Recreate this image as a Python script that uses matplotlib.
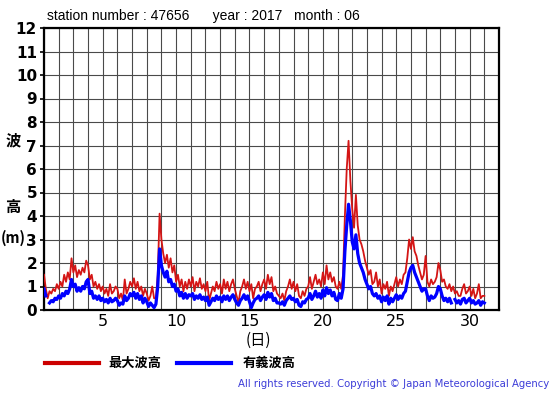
import numpy as np
import matplotlib
matplotlib.use("Agg")
import matplotlib.pyplot as plt

nan = float("nan")

# 3-hourly wave heights (m), June 2017, station 47656
max_wave = [
    1.5, 0.9, 0.5, 0.8, 0.7, 0.9, 0.8, 1.1,   # 1
    0.9, 1.2, 1.0, 1.5, 1.2, 1.6, 1.3, 2.2,   # 2
    1.6, 1.9, 1.4, 1.7, 1.5, 1.8, 1.6, 2.1,   # 3
    1.9, 1.3, 1.5, 1.0, 1.2, 0.9, 1.1, 0.8,   # 4
    1.0, 0.7, 0.9, 0.6, 1.1, 0.7, 0.8, 1.0,   # 5
    0.9, 0.5, 0.7, 0.4, 1.3, 0.7, 0.9, 1.2,   # 6
    1.0, 1.35, 0.9, 1.2, 0.8, 1.0, 0.6, 0.9,  # 7
    0.7, 0.4, 0.6, 1.0, 0.5, 0.5, 1.5, 4.1,   # 8
    3.0, 2.4, 2.0, 2.35, 1.8, 2.2, 1.6, 1.9,  # 9
    1.2, 1.5, 1.0, 1.3, 0.8, 1.2, 0.9, 1.3,   # 10
    1.0, 1.4, 0.8, 1.2, 1.0, 1.35, 0.9, 1.1,  # 11
    0.8, 1.2, 0.4, 0.7, 1.0, 0.8, 1.2, 0.9,   # 12
    1.1, 0.7, 1.3, 0.9, 1.2, 0.8, 1.1, 1.3,   # 13
    0.9, 0.6, 0.3, 0.8, 1.0, 1.3, 0.9, 1.2,   # 14
    0.8, 1.1, 0.5, 0.9, 1.0, 1.2, 0.8, 1.1,   # 15
    1.3, 0.9, 1.5, 1.1, 1.4, 0.8, 1.0, 0.7,   # 16
    0.6, 0.5, 0.7, 0.4, 0.8, 1.0, 1.3, 0.9,   # 17
    1.2, 0.8, 1.1, 0.6, 0.5, 0.8, 0.6, 0.9,   # 18
    1.0, 1.4, 0.9, 1.2, 1.5, 1.1, 1.3, 1.0,   # 19
    1.6, 1.1, 1.9, 1.3, 1.6, 1.2, 1.4, 1.0,   # 20
    0.9, 1.2, 0.9, 1.5, 4.0, 6.0, 7.2, 5.5,   # 21
    4.3, 3.5, 4.9, 3.6, 3.0, 2.8, 2.5, 2.1,   # 22
    1.8, 1.5, 1.7, 1.1, 1.2, 1.6, 1.0, 1.3,   # 23
    0.7, 1.1, 0.9, 1.2, 0.6, 1.0, 0.8, 1.1,   # 24
    1.4, 1.0, 1.3, 1.1, 1.5, 1.6, 2.2, 3.0,   # 25
    2.6, 3.1, 2.5, 2.3, 1.9, 1.6, 1.3, 1.5,   # 26
    2.3, 1.2, 1.0, 1.3, 1.1, 1.2, 1.4, 2.0,   # 27
    1.7, 1.2, 1.3, 1.0, 0.9, 1.1, 0.8, 1.0,   # 28
    0.7, 0.8, 0.6, 0.6, 0.9, 1.1, 0.7, 0.8,   # 29
    1.0, 0.6, 0.9, 0.5, 0.7, 1.1, 0.5, 0.6,   # 30
    0.6,
]

sig_wave = [
    0.9, 0.6, nan, 0.3, 0.4, 0.35, 0.5, 0.45,     # 1
    0.6, 0.5, 0.7, 0.6, 0.8, 0.7, 0.9, 1.3,       # 2
    1.0, 1.1, 0.8, 0.95, 0.8, 1.0, 0.9, 1.2,      # 3
    1.3, 0.7, 0.8, 0.5, 0.6, 0.45, 0.6, 0.4,      # 4
    0.5, 0.35, 0.45, 0.3, 0.5, 0.35, 0.4, 0.5,    # 5
    0.4, 0.2, 0.3, 0.25, 0.6, 0.4, 0.5, 0.7,      # 6
    0.6, 0.75, 0.5, 0.7, 0.45, 0.6, 0.3, 0.5,     # 7
    0.35, 0.15, 0.3, 0.2, 0.1, 0.25, 1.0, 2.6,    # 8
    1.9, 1.6, 1.4, 1.65, 1.2, 1.3, 1.0, 1.1,      # 9
    0.8, 0.9, 0.6, 0.75, 0.5, 0.7, 0.5, 0.65,     # 10
    0.6, 0.7, 0.45, 0.6, 0.5, 0.65, 0.45, 0.55,   # 11
    0.4, 0.55, 0.2, 0.35, 0.5, 0.4, 0.6, 0.45,    # 12
    0.55, 0.35, 0.6, 0.45, 0.6, 0.4, 0.55, 0.65,  # 13
    0.45, 0.3, 0.2, 0.4, 0.5, 0.65, 0.45, 0.6,    # 14
    0.35, 0.1, 0.3, 0.45, 0.5, 0.6, 0.4, 0.55,    # 15
    0.65, 0.45, 0.75, 0.55, 0.7, 0.4, 0.5, 0.3,   # 16
    0.3, 0.25, 0.35, 0.2, 0.4, 0.5, 0.6, 0.45,    # 17
    0.5, 0.35, 0.45, 0.2, 0.15, 0.35, 0.3, 0.45,  # 18
    0.5, 0.7, 0.45, 0.6, 0.8, 0.55, 0.7, 0.5,     # 19
    0.85, 0.6, 0.95, 0.7, 0.85, 0.6, 0.75, 0.45,  # 20
    0.4, 0.7, 0.5, 0.9, 2.5, 3.6, 4.5, 3.8,       # 21
    2.9, 2.6, 3.2, 2.4, 2.0, 1.8, 1.6, 1.3,       # 22
    1.1, 0.9, 1.0, 0.7, 0.6, 0.7, 0.5, 0.6,       # 23
    0.35, 0.55, 0.4, 0.6, 0.25, 0.5, 0.35, 0.5,   # 24
    0.65, 0.45, 0.6, 0.5, 0.7, 0.8, 1.2, 1.6,     # 25
    1.8, 1.9, 1.6, 1.4, 1.2, 1.0, 0.8, 0.9,       # 26
    0.9, 0.6, 0.4, 0.6, 0.5, 0.55, 0.7, 1.0,      # 27
    0.9, 0.6, 0.4, 0.5, 0.35, 0.5, 0.3, nan,      # 28
    0.45, 0.3, 0.4, 0.25, 0.45, 0.5, 0.3, 0.4,    # 29
    0.5, 0.3, 0.4, 0.25, 0.3, 0.4, 0.2, 0.35,     # 30
    0.3,
]

hours_per_step = 3
x_tick_labels = ["5", "10", "15", "20", "25", "30"]
y_tick_labels = [str(v) for v in range(0, 13)]
legend_labels = ["最大波高", "有義波高"]
title_text = "station number : 47656      year : 2017   month : 06"

days = 1 + np.arange(len(max_wave)) * hours_per_step / 24.0

W, H = 555, 395
fig = plt.figure(figsize=(W / 100, H / 100), dpi=100)
ax = fig.add_axes([44 / W, (H - 310) / H, (499 - 44) / W, (310 - 28) / H])

ax.plot(days, max_wave, color="#d41515", lw=1.3, zorder=3)
ax.plot(days, sig_wave, color="#0000ff", lw=2.3, zorder=4)

ax.set_xlim(1, 32)
ax.set_ylim(0, 12)
ax.set_xticks(np.arange(1, 33))
ax.set_xticklabels([str(d) if str(d) in x_tick_labels else "" for d in range(1, 33)])
ax.set_yticks(range(0, 13))
ax.set_yticklabels(y_tick_labels, fontweight="bold", fontsize=11)
ax.tick_params(axis="x", length=0, labelsize=11.5, pad=3)
ax.tick_params(axis="y", length=3, width=1.2, pad=2)
ax.grid(True, color="#4a4a4a", lw=0.8)
for s in ax.spines.values():
    s.set_linewidth(1.6)
    s.set_color("black")

cjk = ["Noto Sans CJK JP", "DejaVu Sans"]
fig.text(47 / W, 1 - 16 / H, title_text, fontsize=10, family="Liberation Sans",
         ha="left", va="center")
fig.text(13 / W, 1 - 140 / H, "波", fontsize=11, family=cjk, fontweight="bold",
         ha="center", va="center")
fig.text(13 / W, 1 - 207 / H, "高", fontsize=11, family=cjk, fontweight="bold",
         ha="center", va="center")
fig.text(13 / W, 1 - 238 / H, "(m)", fontsize=10.5, family=cjk, fontweight="bold",
         ha="center", va="center")
fig.text(258 / W, 1 - 340 / H, "(日)", fontsize=11, family=cjk,
         ha="center", va="center")

# legend
fig.add_artist(plt.Line2D([45 / W, 99 / W], [1 - 363 / H, 1 - 363 / H],
                          color="#cc0000", lw=3))
fig.text(108 / W, 1 - 363 / H, legend_labels[0], fontsize=9.5, family=cjk,
         fontweight="bold", ha="left", va="center")
fig.add_artist(plt.Line2D([177 / W, 231 / W], [1 - 363 / H, 1 - 363 / H],
                          color="#0000ff", lw=3))
fig.text(243 / W, 1 - 363 / H, legend_labels[1], fontsize=9.5, family=cjk,
         fontweight="bold", ha="left", va="center")
fig.text(549 / W, 1 - 384 / H,
         "All rights reserved. Copyright \u00a9 Japan Meteorological Agency",
         fontsize=7.3, color="#3c3cd8", ha="right", va="center",
         family="DejaVu Sans")

fig.savefig("out.png", dpi=100)
